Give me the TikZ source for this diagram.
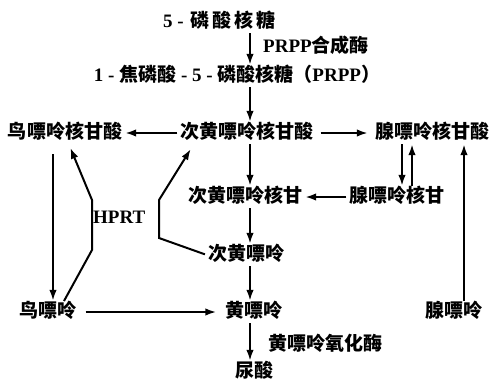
\documentclass[tikz,border=0pt]{standalone}
\usepackage{fontspec}
\setmainfont{Liberation Serif}
\newfontfamily\cjk{Noto Sans CJK SC}[BoldFont={* Black}]
\newcommand\zh[1]{{\cjk #1}}
\usetikzlibrary{arrows.meta}
\begin{document}
\begin{tikzpicture}[x=1pt,y=-1pt,
  every node/.style={font=\fontsize{19}{21}\selectfont\bfseries, inner sep=1pt, text height=13pt, text depth=3pt},
  arr/.style={line width=2pt, -{Latex[length=11pt,width=7.5pt]}, shorten >=2pt, shorten <=2pt}]
\useasboundingbox (0,0) rectangle (497,378);
\coordinate (col) at (250,0);
\coordinate (d1) at (402,0);
\coordinate (d2) at (412,0);
\coordinate (c464) at (464,0);
\coordinate (c53) at (53,0);
\coordinate (c63) at (63,0);
\coordinate (c68) at (68,0);
\coordinate (c195) at (195,0);
\coordinate (h1) at (92,250);
\coordinate (h2) at (92,200);
\coordinate (k1) at (159,238);
\coordinate (k2) at (159,200);

\node[anchor=west] (n1) at (162,22) {5 -\hspace{7pt}\zh{磷\hspace{3pt}酸\hspace{3pt}核\hspace{3pt}糖}};
\node (n2) at (237,76) {1 - \zh{焦磷酸} - 5 - \zh{磷酸核糖（}PRPP\zh{）}};
\node (gmp) at (65,133) {\zh{鸟嘌呤核甘酸}};
\node (imp) at (247,133) {\zh{次黄嘌呤核甘酸}};
\node (amp) at (432,133) {\zh{腺嘌呤核甘酸}};
\node (imr) at (245,197) {\zh{次黄嘌呤核甘}};
\node (ar) at (397,197) {\zh{腺嘌呤核甘}};
\node (hx) at (246,255) {\zh{次黄嘌呤}};
\node (gua) at (48,312) {\zh{鸟嘌呤}};
\node (xan) at (254,312) {\zh{黄嘌呤}};
\node (ade) at (454,312) {\zh{腺嘌呤}};
\node (ua) at (254,372) {\zh{尿酸}};
\node[anchor=west] (l1) at (262,47) {PRPP\zh{合成酶}};
\node[anchor=west] (l2) at (267,345) {\zh{黄嘌呤氧化酶}};
\node[anchor=west] (l3) at (92,218) {HPRT};

\draw[arr] (n1.south -| col) -- (n2.north -| col);
\draw[arr] (n2.south -| col) -- (imp.north -| col);
\draw[arr] (imp.west) -- (gmp.east);
\draw[arr, shorten <=6pt, shorten >=6pt] (imp.east) -- (amp.west);
\draw[arr] (imp.south -| col) -- (imr.north -| col);
\draw[arr] (ar.west) -- (imr.east);
\draw[arr] (amp.south -| d1) -- (ar.north -| d1);
\draw[arr] (ar.north -| d2) -- (amp.south -| d2);
\draw[arr] (imr.south -| col) -- (hx.north -| col);
\draw[arr] (hx.south -| col) -- (xan.north -| col);
\draw[arr, shorten <=8pt, shorten >=8pt] (gua.east) -- (xan.west);
\draw[arr] (xan.south -| col) -- (ua.north -| col);
\draw[arr] (ade.north -| c464) -- (amp.south -| c464);
\draw[arr, shorten <=12pt] (gmp.south -| c53) -- (gua.north -| c53);
\draw[arr, shorten >=6pt] (gua.north -| c63) -- (h1) -- (h2) -- (gmp.south -| c68);
\draw[arr, shorten >=8pt] (hx.west) -- (k1) -- (k2) -- (imp.south -| c195);
\end{tikzpicture}
\end{document}
